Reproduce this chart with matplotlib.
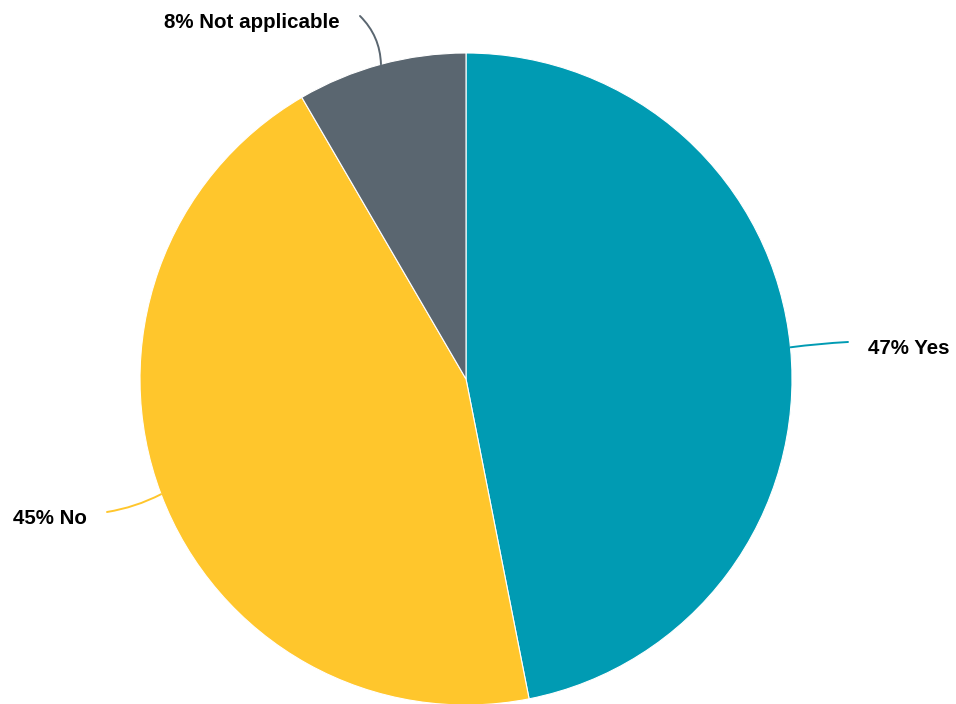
"""
Pie chart: share of answers
"""

import matplotlib
matplotlib.use("Agg")
import matplotlib.pyplot as plt
import numpy as np

labels = ["Yes", "No", "Not applicable"]
values = [46.9, 44.7, 8.4]
colors = ["#009bb3", "#ffc62c", "#5a6670"]

# label anchor (end of leader line), text position, alignment, curve
label_ends = [(848, 362), (107, 192), (360, 688)]
text_pos = [(868, 356), (87, 185), (340, 681)]
text_align = ["left", "right", "right"]
curves = [0.02, 0.08, -0.2]

W, H = 956, 704
fig = plt.figure(figsize=(W / 100, H / 100), dpi=100)
ax = fig.add_axes([0, 0, 1, 1])
ax.set_xlim(0, W)
ax.set_ylim(0, H)
ax.set_aspect("equal")
ax.axis("off")

cx, cy, r = 466, 325, 326
wedges, _ = ax.pie(values, colors=colors, startangle=90, counterclock=False,
                   center=(cx, cy), radius=r,
                   wedgeprops=dict(edgecolor="white", linewidth=0.8))
ax.set_xlim(0, W)
ax.set_ylim(0, H)

for i, w in enumerate(wedges):
    ang = np.deg2rad((w.theta1 + w.theta2) / 2)
    x0 = cx + r * np.cos(ang)
    y0 = cy + r * np.sin(ang)
    ax.annotate("", xy=(x0, y0), xytext=label_ends[i],
                arrowprops=dict(arrowstyle="-", color=colors[i], lw=1.4,
                                connectionstyle="arc3,rad=%s" % curves[i],
                                shrinkA=0, shrinkB=0))
    ax.text(text_pos[i][0], text_pos[i][1],
            "%d%% %s" % (round(values[i]), labels[i]),
            ha=text_align[i], va="center", fontsize=14.8, fontweight="bold",
            family="Liberation Sans", color="black")

fig.savefig("out.png", dpi=100)
